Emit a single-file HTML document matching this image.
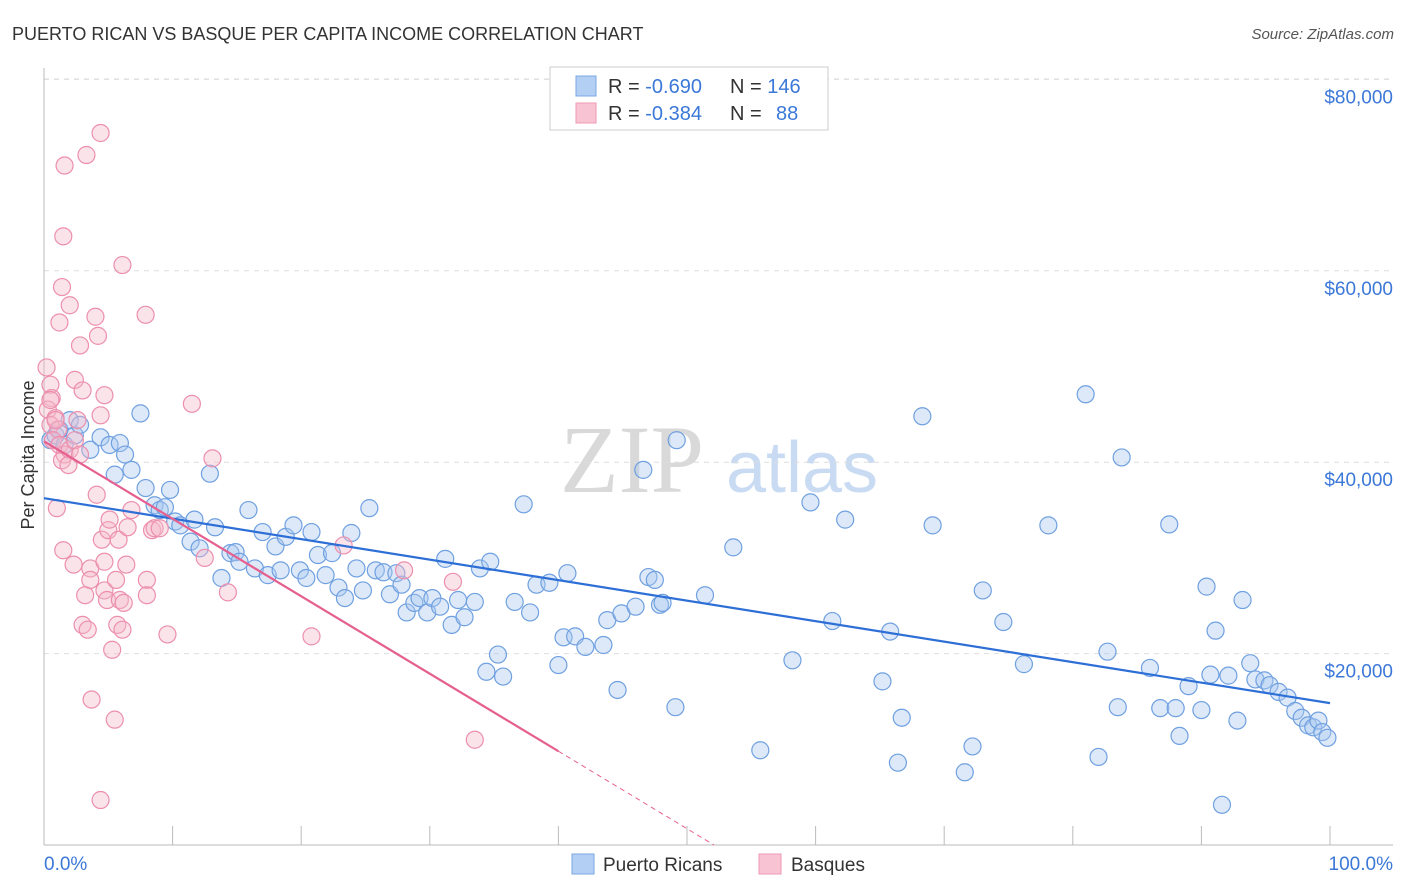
<!DOCTYPE html>
<html><head><meta charset="utf-8"><style>
body{margin:0;background:#fff;font-family:"Liberation Sans",sans-serif;}
#wrap{position:relative;width:1406px;height:892px;overflow:hidden;}
</style></head><body><div id="wrap">
<svg id="chart" width="1406" height="892" style="position:absolute;left:0;top:0">
<text x="12" y="40" font-size="18" fill="#333">PUERTO RICAN VS BASQUE PER CAPITA INCOME CORRELATION CHART</text>
<text x="1394" y="39" font-size="15" fill="#555" font-style="italic" text-anchor="end">Source: ZipAtlas.com</text>
<text x="632" y="492" font-size="96" fill="#d9d9d9" font-family="Liberation Serif,serif" text-anchor="middle">ZIP</text>
<text x="802" y="492" font-size="72" fill="#c9dbf3" text-anchor="middle">atlas</text>
<text transform="translate(34,455) rotate(-90)" font-size="18" fill="#333" text-anchor="middle">Per Capita Income</text>
<g id="grid"></g><g id="pts"></g><g id="trend"></g>
<rect x="550" y="67" width="278" height="63" fill="#fff" stroke="#ccc"/>
<rect x="576" y="76" width="20" height="20" fill="#b3cff3" stroke="#7aa7e4"/>
<rect x="576" y="103" width="20" height="20" fill="#f8c4d3" stroke="#ef9ab4"/>
<text x="608" y="93" font-size="20" fill="#333">R = <tspan fill="#3b78d8">-0.690</tspan><tspan x="730">N = </tspan><tspan fill="#3b78d8">146</tspan></text>
<text x="608" y="120" font-size="20" fill="#333">R = <tspan fill="#3b78d8">-0.384</tspan><tspan x="730">N = </tspan><tspan x="776" fill="#3b78d8">88</tspan></text>
<text x="44" y="870" font-size="19" fill="#3b78d8">0.0%</text>
<text x="1393" y="870" font-size="19" fill="#3b78d8" text-anchor="end">100.0%</text>
<rect x="572" y="854" width="22" height="20" fill="#b3cff3" stroke="#7aa7e4"/>
<text x="603" y="871" font-size="19" fill="#333">Puerto Ricans</text>
<rect x="759" y="854" width="22" height="20" fill="#f8c4d3" stroke="#ef9ab4"/>
<text x="791" y="871" font-size="19" fill="#333">Basques</text>
</svg>
<script>
const yTicks=[20000,40000,60000,80000];
const yTickLabels=["$20,000","$40,000","$60,000","$80,000"];
const xTicks=[0,10,20,30,40,50,60,70,80,90,100];
const pinkSolidEnd=40;
const blueX=[0.5,0.9,1.2,1.6,2.0,2.4,2.8,3.6,4.4,5.1,5.9,6.3,5.5,6.8,7.5,7.9,8.6,9.0,9.8,9.4,10.2,10.6,11.4,11.7,12.1,12.9,13.3,13.8,14.5,14.9,15.2,15.9,16.4,17.0,17.4,18.0,18.4,18.8,19.4,19.9,20.4,20.8,21.3,21.9,22.4,22.9,23.4,23.9,24.3,24.8,25.3,25.8,26.4,26.9,27.4,27.8,28.2,28.8,29.2,29.8,30.2,30.8,31.2,31.7,32.2,32.7,33.5,33.9,34.4,34.7,35.3,35.7,36.6,37.3,37.8,38.3,39.3,40.0,40.4,40.7,41.3,42.1,43.5,43.8,44.6,44.9,46.0,46.6,47.0,47.5,47.9,48.1,49.2,49.1,51.4,53.6,55.7,58.2,59.6,61.3,62.3,65.2,65.8,66.4,66.7,68.3,69.1,71.6,72.2,73.0,74.6,76.2,78.1,81.0,82.0,82.7,83.5,83.8,86.0,86.8,87.5,88.0,88.3,89.0,90.0,90.4,91.1,91.6,90.7,92.1,92.8,93.2,93.8,94.2,94.9,95.3,96.0,96.7,97.3,97.8,98.3,98.7,99.1,99.4,99.8];
const blueY=[42.3,42.8,43.4,41.8,44.4,42.8,43.9,41.3,42.6,41.8,42.0,40.8,38.7,39.2,45.1,37.3,35.5,35.0,37.1,35.3,33.8,33.4,31.7,34.0,31.0,38.8,33.2,27.9,30.5,30.6,29.6,35.0,28.9,32.7,28.2,31.2,28.7,32.2,33.4,28.7,27.9,32.7,30.3,28.2,30.5,26.9,25.8,32.6,28.9,26.6,35.2,28.7,28.5,26.2,28.4,27.2,24.3,25.3,25.8,24.3,25.8,24.9,29.9,23.0,25.6,23.8,25.4,28.9,18.1,29.6,19.9,17.6,25.4,35.6,24.3,27.2,27.4,18.8,21.7,28.4,21.8,20.7,20.9,23.5,16.2,24.2,24.9,39.2,28.0,27.7,25.1,25.3,42.3,14.4,26.1,31.1,9.9,19.3,35.8,23.4,34.0,17.1,22.3,8.6,13.3,44.8,33.4,7.6,10.3,26.6,23.3,18.9,33.4,47.1,9.2,20.2,14.4,40.5,18.5,14.3,33.5,14.3,11.4,16.6,14.1,27.0,22.4,4.2,17.8,17.7,13.0,25.6,19.0,17.3,17.2,16.7,16.0,15.4,14.0,13.3,12.5,12.3,13.0,11.8,11.2];
const pinkX=[0.2,0.5,0.6,0.3,0.9,0.5,1.1,0.7,1.2,1.6,1.4,2.0,1.9,2.4,2.8,1.0,1.5,1.2,1.4,1.5,1.6,2.0,2.3,2.4,2.6,2.8,3.0,3.2,3.0,3.3,3.6,3.4,3.7,4.0,4.1,4.2,4.4,4.5,4.7,4.7,4.9,5.0,5.1,5.3,5.5,5.6,5.7,5.8,5.9,6.1,6.2,6.4,6.1,6.5,6.8,7.9,8.0,8.0,8.4,8.6,9.0,9.6,11.5,12.5,13.1,14.3,4.4,20.8,23.3,28.0,31.8,33.5,3.6,4.4,4.7,0.9,0.5];
const pinkY=[49.9,48.1,46.7,45.5,44.6,43.9,43.4,42.3,41.8,40.8,40.2,41.3,39.7,42.3,40.8,35.2,30.8,54.6,58.3,63.6,71.0,56.4,29.3,48.6,44.4,52.2,47.5,26.1,23.0,72.1,28.9,22.5,15.2,55.2,36.6,53.2,74.4,31.9,26.6,29.6,25.6,32.9,34.0,20.4,13.1,27.7,23.0,31.9,25.6,22.5,25.3,29.3,60.6,33.2,35.0,55.4,27.7,26.1,32.9,33.1,33.1,22.0,46.1,30.0,40.4,26.4,4.7,21.8,31.3,28.7,27.5,11.0,27.7,44.9,47.0,44.4,46.5];
const NS="http://www.w3.org/2000/svg";
const X0=44,X1=1330,Y0=845,YPX=191.4/20000;
function sx(v){return X0+(X1-X0)*v/100;}
function sy(v){return Y0-v*YPX;}
function mk(t,a,parent){const e=document.createElementNS(NS,t);for(const k in a)e.setAttribute(k,a[k]);parent.appendChild(e);return e;}
const grid=document.getElementById('grid');
yTicks.forEach((t,i)=>{
 const l=mk('line',{x1:44,x2:1393,y1:sy(t),y2:sy(t),stroke:'#ddd','stroke-dasharray':'5,5'},grid);
 
 
 const tx=mk('text',{x:1393,y:sy(t)+24,'font-size':19,fill:'#3b78d8','text-anchor':'end'},grid);
 tx.textContent=yTickLabels[i];
 
 
});
const tg=mk('line',{x1:44,x2:1393,y1:79,y2:79,stroke:'#ddd','stroke-dasharray':'5,5'},grid);


const ax=mk('line',{x1:44,x2:1393,y1:845,y2:845,stroke:'#bbb'},grid);


const ay=mk('line',{x1:44,x2:44,y1:68,y2:845,stroke:'#bbb'},grid);


xTicks.forEach(t=>{
 const l=mk('line',{x1:sx(t),x2:sx(t),y1:826,y2:845,stroke:'#bbb'},grid);
 
 
});
const pts=document.getElementById('pts');
function drawPts(xs,ys,fill,stroke,name){
 xs.forEach((x,i)=>{
  const c=mk('circle',{cx:sx(x),cy:sy(ys[i]*1000),r:8.5,fill:fill,'fill-opacity':0.4,stroke:stroke,'stroke-width':1.2},pts);
  
  
 });
}
drawPts(blueX,blueY,'#a9c8f0','#6fa0e0','puerto-rican-point');
drawPts(pinkX,pinkY,'#f5b8cb','#ec8fae','basque-point');
function fit(xs,ys){const n=xs.length;let mx=0,my=0;xs.forEach((x,i)=>{mx+=x;my+=ys[i];});mx/=n;my/=n;let a=0,b=0;xs.forEach((x,i)=>{a+=(x-mx)*(ys[i]-my);b+=(x-mx)*(x-mx);});const s=a/b;return [my-s*mx,s];}
const trend=document.getElementById('trend');
const [bi,bs]=fit(blueX,blueY);
const bl=mk('line',{x1:sx(0),y1:sy((bi)*1000),x2:sx(100),y2:sy((bi+bs*100)*1000),stroke:'#2d6fd6','stroke-width':2.2},trend);


const [pi,ps]=fit(pinkX,pinkY);
const pmax=pinkSolidEnd;
const pl=mk('line',{x1:sx(0),y1:sy(pi*1000),x2:sx(pmax),y2:sy((pi+ps*pmax)*1000),stroke:'#e5608f','stroke-width':2.2},trend);


const xz=-pi/ps;
const pd=mk('line',{x1:sx(pmax),y1:sy((pi+ps*pmax)*1000),x2:sx(xz),y2:sy(0),stroke:'#e5608f','stroke-width':1,'stroke-dasharray':'5,4'},trend);


</script>
</div></body></html>
